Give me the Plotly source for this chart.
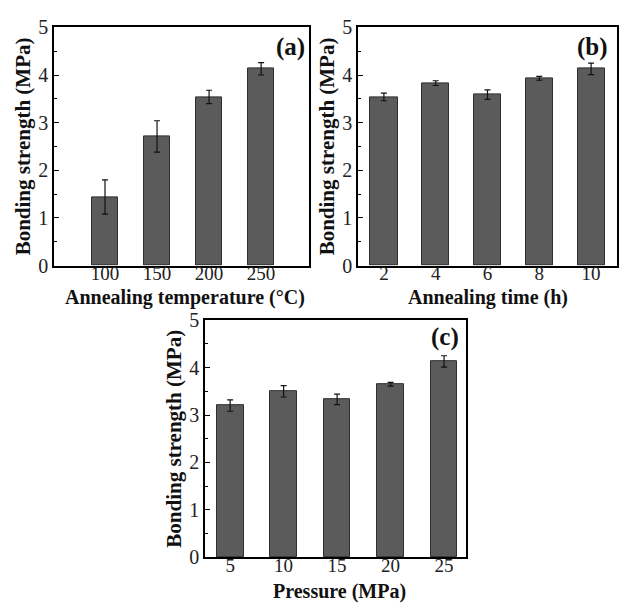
import plotly.graph_objects as go

W, H = 619, 612

# Data
temp_x = [100, 150, 200, 250]
temp_y = [1.44, 2.71, 3.54, 4.13]
temp_err = [0.36, 0.33, 0.14, 0.13]

time_x = [2, 4, 6, 8, 10]
time_y = [3.54, 3.83, 3.59, 3.93, 4.13]
time_err = [0.08, 0.05, 0.10, 0.04, 0.12]

pres_x = [5, 10, 15, 20, 25]
pres_y = [3.20, 3.50, 3.33, 3.65, 4.13]
pres_err = [0.12, 0.12, 0.11, 0.04, 0.12]

ytick_vals = [0, 1, 2, 3, 4, 5]

FONT = "Liberation Serif, Times New Roman, serif"
BAR_COLOR = "#5b5b5b"
EDGE = "#2e2e2e"

fig = go.Figure()

def add_bars(x, y, err, width, xa, ya):
    fig.add_trace(go.Bar(
        x=x, y=y, width=width,
        marker=dict(color=BAR_COLOR, line=dict(color=EDGE, width=1)),
        error_y=dict(type="data", array=err, visible=True, color="#111111",
                     thickness=1.2, width=3),
        xaxis=xa, yaxis=ya, showlegend=False,
    ))

add_bars(temp_x, temp_y, temp_err, 25, "x", "y")
add_bars(time_x, time_y, time_err, 1.05, "x2", "y2")
add_bars(pres_x, pres_y, pres_err, 2.5, "x3", "y3")

def px_x(p):
    return p / W

def px_y(p):
    return 1 - p / H

common_x = dict(showline=True, linecolor="black", linewidth=1.5, mirror=True,
                ticks="", showgrid=False, zeroline=False, ticklabelstandoff=-10,
                tickfont=dict(family=FONT, size=19, color="#222"))
common_y = dict(showline=True, linecolor="black", linewidth=1.5, mirror=True,
                ticks="inside", ticklen=5, tickwidth=1.2, tickcolor="black",
                minor=dict(ticks="inside", ticklen=3, dtick=0.5, tickcolor="black"),
                range=[0, 5], tickvals=ytick_vals, showgrid=False, zeroline=False,
                tickfont=dict(family=FONT, size=20, color="#222"),
                title_font=dict(family=FONT, size=21, color="#111"))

ytitle = "<b>Bonding strength (MPa)</b>"

fig.update_layout(
    width=W, height=H,
    margin=dict(l=0, r=0, t=0, b=0),
    paper_bgcolor="white", plot_bgcolor="white",
    bargap=0,
    xaxis=dict(common_x, domain=[px_x(54), px_x(309)], range=[51, 296],
               tickvals=temp_x, anchor="y"),
    yaxis=dict(common_y, domain=[px_y(264), px_y(17)], anchor="x",
               title=dict(text=ytitle, standoff=2)),
    xaxis2=dict(common_x, domain=[px_x(358), px_x(617)], range=[1.0, 11.0],
                tickvals=time_x, anchor="y2"),
    yaxis2=dict(common_y, domain=[px_y(264), px_y(17)], anchor="x2",
                title=dict(text=ytitle, standoff=2)),
    xaxis3=dict(common_x, domain=[px_x(205), px_x(466)], range=[2.65, 27.05],
                tickvals=pres_x, anchor="y3"),
    yaxis3=dict(common_y, domain=[px_y(566.7), px_y(320.7)], anchor="x3",
                title=dict(text=ytitle, standoff=2)),
)

xtitles = [("Annealing temperature (°C)", 185, 297.5),
           ("Annealing time (h)", 488, 297.5),
           ("Pressure (MPa)", 339, 602)]
for txt, x, y in xtitles:
    fig.add_annotation(text=f"<b>{txt}</b>", x=px_x(x), y=px_y(y),
                       xref="paper", yref="paper", showarrow=False,
                       xanchor="center", yanchor="middle",
                       font=dict(family=FONT, size=20, color="#111"))

labels = [("(a)", 290, 37), ("(b)", 592, 37), ("(c)", 445, 338)]
for txt, x, y in labels:
    fig.add_annotation(text=f"<b>{txt}</b>", x=px_x(x), y=px_y(y),
                       xref="paper", yref="paper", showarrow=False,
                       xanchor="center", yanchor="middle",
                       font=dict(family=FONT, size=25, color="#111"))

fig.write_html("out.html")
